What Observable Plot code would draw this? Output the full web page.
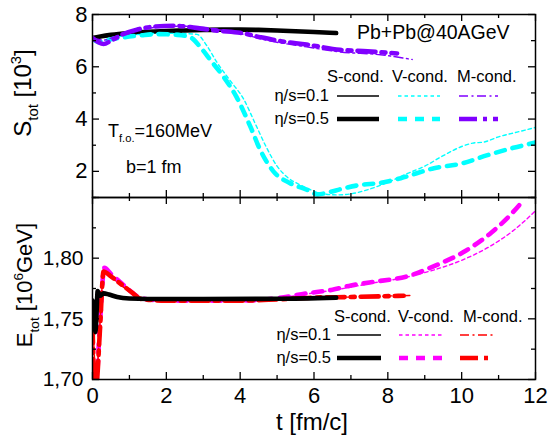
<!DOCTYPE html>
<html><head><meta charset="utf-8">
<script src="https://cdn.jsdelivr.net/npm/d3@7"></script>
<script src="https://cdn.jsdelivr.net/npm/@observablehq/plot@0.6"></script>
<style>
body{margin:0;background:#fff;}
#chart{position:relative;width:550px;height:435px;font-family:"Liberation Sans",Arial,sans-serif;}
#chart svg{position:absolute;left:0;overflow:visible;}
</style></head><body><div id="chart"></div>
<script>
// ---------- Top panel: S_tot [10^3] ----------
const tS_S05 = [0, 0.25, 0.5, 1, 1.5, 2, 2.5, 3, 3.5, 4, 4.5, 5, 5.5, 6, 6.6];
const vS_S05 = [7.1, 7.17, 7.22, 7.29, 7.34, 7.37, 7.39, 7.41, 7.42, 7.42, 7.41, 7.39, 7.36, 7.33, 7.29];
const tS_S01 = [0, 0.25, 0.5, 1, 1.5, 2, 2.5, 3, 3.5, 4, 4.5, 5, 5.5, 6, 6.6];
const vS_S01 = [7.08, 7.15, 7.2, 7.27, 7.32, 7.35, 7.37, 7.39, 7.4, 7.4, 7.39, 7.37, 7.34, 7.31, 7.28];

const tS_V05 = [0, 0.2, 0.5, 0.85, 1.3, 1.75, 2.3, 2.65, 2.95, 3.2, 3.56, 3.9, 4.28, 4.55, 4.9, 5.35, 5.8, 6.1, 6.4, 6.75, 7.25, 7.8, 8.35, 9.25, 10, 10.7, 11.4, 12];
const vS_V05 = [7.07, 6.93, 7.05, 7.13, 7.2, 7.25, 7.22, 7.13, 6.7, 6.25, 5.6, 4.85, 3.7, 2.8, 2.0, 1.55, 1.3, 1.12, 1.2, 1.33, 1.48, 1.56, 1.74, 2.12, 2.3, 2.62, 2.9, 3.1];
const tS_V01 = [0, 0.2, 0.5, 1, 1.5, 2, 2.5, 2.83, 3.1, 3.38, 3.74, 4.1, 4.4, 4.7, 5.0, 5.3, 5.6, 5.9, 6.2, 6.6, 7.0, 7.5, 8.0, 8.5, 9.0, 9.5, 10.0, 10.3, 10.6, 11.0, 11.5, 12];
const vS_V01 = [7.05, 6.98, 7.1, 7.2, 7.26, 7.28, 7.27, 7.24, 6.8, 6.15, 5.45, 4.75, 3.85, 2.95, 2.2, 1.75, 1.5, 1.3, 1.15, 1.1, 1.14, 1.32, 1.58, 1.9, 2.2, 2.6, 2.95, 3.08, 3.12, 3.32, 3.5, 3.68];

const tS_M05 = [0, 0.15, 0.3, 0.5, 0.85, 1.2, 1.57, 2.2, 2.65, 3.0, 3.4, 4.0, 4.55, 5.1, 5.8, 6.7, 7.45, 8.25];
const vS_M05 = [7.1, 6.95, 6.87, 7.0, 7.26, 7.42, 7.52, 7.57, 7.52, 7.45, 7.38, 7.3, 7.13, 6.98, 6.85, 6.65, 6.59, 6.51];
const tS_M01 = [0, 0.3, 0.6, 1.0, 1.5, 2.0, 2.5, 3.0, 3.5, 4.0, 4.7, 5.8, 6.7, 7.8, 8.66];
const vS_M01 = [7.1, 7.02, 7.15, 7.32, 7.47, 7.54, 7.55, 7.5, 7.4, 7.27, 7.02, 6.76, 6.57, 6.46, 6.28];

// ---------- Bottom panel: E_tot [10^6 GeV] ----------
const tE_S05 = [0, 0.04, 0.08, 0.11, 0.14, 0.2, 0.3, 0.45, 0.67, 1.0, 1.5, 3, 5, 6.6];
const vE_S05 = [1.765, 1.755, 1.739, 1.755, 1.773, 1.769, 1.771, 1.770, 1.768, 1.7667, 1.7663, 1.7663, 1.7665, 1.7675];
const tE_S01 = [0, 0.04, 0.08, 0.11, 0.14, 0.2, 0.3, 0.7, 1.0, 3, 5, 6.6];
const vE_S01 = [1.765, 1.756, 1.745, 1.758, 1.772, 1.769, 1.770, 1.767, 1.7665, 1.7663, 1.7665, 1.767];

const tE_V05 = [0, 0.1, 0.2, 0.32, 0.5, 0.8, 1.1, 1.3, 2, 3, 4, 5, 5.8, 6.5, 7.0, 7.5, 8.6, 9.3, 10.05, 10.8, 11.3, 11.68];
const vE_V05 = [1.70, 1.698, 1.745, 1.792, 1.787, 1.779, 1.771, 1.767, 1.765, 1.765, 1.765, 1.767, 1.771, 1.774, 1.7775, 1.78, 1.7857, 1.794, 1.805, 1.821, 1.835, 1.848];
const tE_V01 = [0, 0.1, 0.2, 0.33, 0.5, 0.8, 1.1, 1.3, 2, 3, 4, 5, 5.8, 6.5, 7.5, 8.6, 9.16, 10.06, 10.78, 11.41, 12];
const vE_V01 = [1.71, 1.70, 1.748, 1.790, 1.785, 1.778, 1.770, 1.767, 1.7655, 1.7655, 1.7655, 1.767, 1.7705, 1.7735, 1.779, 1.785, 1.7895, 1.799, 1.81, 1.823, 1.839];

const tE_M05 = [0, 0.05, 0.1, 0.2, 0.3, 0.5, 0.8, 1.1, 1.3, 2, 3, 4, 5, 6, 7, 8.43];
const vE_M05 = [1.745, 1.70, 1.695, 1.74, 1.789, 1.785, 1.778, 1.771, 1.7665, 1.765, 1.765, 1.765, 1.766, 1.7675, 1.768, 1.769];
const tE_M01 = [0, 0.05, 0.1, 0.2, 0.3, 0.5, 0.8, 1.1, 1.3, 2, 3, 4, 5, 6, 7, 8.66];
const vE_M01 = [1.76, 1.72, 1.70, 1.745, 1.788, 1.784, 1.777, 1.770, 1.7665, 1.7655, 1.7655, 1.7655, 1.766, 1.767, 1.768, 1.7693];

// ---------- ticks ----------
const xMajor = [0, 2, 4, 6, 8, 10, 12];
const xMinor = [1, 3, 5, 7, 9, 11];
const ySMajor = [2, 4, 6, 8];
const ySMinor = [1, 3, 5, 7];
const yEMajor = [1.70, 1.75, 1.80, 1.85];
const yEMinor = [1.725, 1.775, 1.825];
const yELabels = [1.70, 1.75, 1.80];

const rows = (t, v) => t.map((x, i) => ({t: x, v: v[i]}));

const FONT = "'Liberation Sans', Arial, sans-serif";
const W = 550, ML = 92, MR = 15;
const innerW = W - ML - MR;
const THIN = 1.4, THICK = 4.6;
const CYAN = "#00FFFF", PURPLE = "#8000FF", MAGENTA = "#FF00FF", RED = "#FF0000";
const DASH = {
  V01: "3.5,3", V05: "9,8", M01: "9,3.5,2,3.5", M05: "18,6,4,6"
};

function tickMarks(innerH, xMaj, xMin, yMaj, yMin) {
  const L = 7, l = 4, sw = 1.3;
  return [
    Plot.tickX(xMaj, {x: d => d, insetTop: innerH - L, strokeWidth: sw}),
    Plot.tickX(xMaj, {x: d => d, insetBottom: innerH - L, strokeWidth: sw}),
    Plot.tickX(xMin, {x: d => d, insetTop: innerH - l, strokeWidth: sw}),
    Plot.tickX(xMin, {x: d => d, insetBottom: innerH - l, strokeWidth: sw}),
    Plot.tickY(yMaj, {y: d => d, insetRight: innerW - L, strokeWidth: sw}),
    Plot.tickY(yMaj, {y: d => d, insetLeft: innerW - L, strokeWidth: sw}),
    Plot.tickY(yMin, {y: d => d, insetRight: innerW - l, strokeWidth: sw}),
    Plot.tickY(yMin, {y: d => d, insetLeft: innerW - l, strokeWidth: sw})
  ];
}

const line = (data, stroke, width, dash) =>
  Plot.line(data, {x: "t", y: "v", stroke, strokeWidth: width, strokeDasharray: dash, clip: true, curve: "monotone-x"});

// top panel
const topH = 197, topMT = 14, topMB = 0;
const topPlot = Plot.plot({
  width: W, height: topH, marginLeft: ML, marginRight: MR, marginTop: topMT, marginBottom: topMB,
  x: {domain: [0, 12], axis: null},
  y: {domain: [1, 8]},
  style: {fontFamily: FONT, fontSize: "21px", color: "black", background: "transparent", overflow: "visible"},
  marks: [
    line(rows(tS_S01, vS_S01), "black", THIN, null),
    line(rows(tS_S05, vS_S05), "black", THICK, null),
    line(rows(tS_V01, vS_V01), CYAN, THIN, DASH.V01),
    line(rows(tS_V05, vS_V05), CYAN, THICK, DASH.V05),
    line(rows(tS_M01, vS_M01), PURPLE, THIN, DASH.M01),
    line(rows(tS_M05, vS_M05), PURPLE, THICK, DASH.M05),
    ...tickMarks(topH - topMT - topMB, xMajor, xMinor, ySMajor, ySMinor),
    Plot.axisY({ticks: ySMajor, tickSize: 0, tickPadding: 5, tickFormat: d => String(d), label: null, fontSize: 22}),
    Plot.frame({strokeWidth: 1.5})
  ]
});

// bottom panel
const botH = 238, botMT = 0, botMB = 56;
const fmtComma = d => d.toFixed(2).replace(".", ",");
const botPlot = Plot.plot({
  width: W, height: botH, marginLeft: ML, marginRight: MR, marginTop: botMT, marginBottom: botMB,
  x: {domain: [0, 12]},
  y: {domain: [1.70, 1.85]},
  style: {fontFamily: FONT, fontSize: "21px", color: "black", background: "transparent", overflow: "visible"},
  marks: [
    line(rows(tE_V01, vE_V01), MAGENTA, THIN, DASH.V01),
    line(rows(tE_V05, vE_V05), MAGENTA, THICK, DASH.V05),
    line(rows(tE_M01, vE_M01), RED, THIN, DASH.M01),
    line(rows(tE_M05, vE_M05), RED, THICK, DASH.M05),
    line(rows(tE_S01, vE_S01), "black", THIN, null),
    line(rows(tE_S05, vE_S05), "black", THICK, null),
    ...tickMarks(botH - botMT - botMB, xMajor, xMinor, yEMajor, yEMinor),
    Plot.axisY({ticks: yELabels, tickSize: 0, tickPadding: 9, tickFormat: fmtComma, label: null, fontSize: 21}),
    Plot.axisX({ticks: xMajor, tickSize: 0, tickPadding: 8, tickFormat: d => String(d), label: null, fontSize: 22}),
    Plot.frame({strokeWidth: 1.5})
  ]
});

const chart = document.getElementById("chart");
topPlot.style.top = "0px";
botPlot.style.top = topH + "px";
chart.appendChild(topPlot);
chart.appendChild(botPlot);

// overlay: titles, annotations, legends
const ov = d3.select(chart).append("svg")
  .attr("width", W).attr("height", 435)
  .style("top", "0px").style("pointer-events", "none")
  .attr("font-family", FONT);

function richText(g, x, y, parts, size, opts = {}) {
  const t = g.append("text").attr("x", x).attr("y", y).attr("font-size", size).attr("fill", "black");
  if (opts.anchor) t.attr("text-anchor", opts.anchor);
  if (opts.transform) t.attr("transform", opts.transform).attr("x", 0).attr("y", 0);
  let shift = 0;
  for (const p of parts) {
    const s = t.append("tspan").text(p.s);
    const target = p.sub ? size * 0.3 : p.sup ? -size * 0.42 : 0;
    s.attr("dy", target - shift);
    shift = target;
    if (p.sub || p.sup) s.attr("font-size", size * 0.62);
  }
  return t;
}

// axis titles
richText(ov, 0, 0, [{s: "S"}, {s: "tot", sub: true}, {s: " [10"}, {s: "3", sup: true}, {s: "]"}], 24,
  {anchor: "middle", transform: "translate(31,93) rotate(-90)"});
richText(ov, 0, 0, [{s: "E"}, {s: "tot", sub: true}, {s: " [10"}, {s: "6", sup: true}, {s: "GeV]"}], 22,
  {anchor: "middle", transform: "translate(32,285) rotate(-90)"});
richText(ov, 276, 430, [{s: "t [fm/c]"}], 24);

// annotations
richText(ov, 357, 39, [{s: "Pb+Pb@40AGeV"}], 19.5);
richText(ov, 108, 137, [{s: "T"}, {s: "f.o.", sub: true}, {s: "=160MeV"}], 18);
richText(ov, 126, 173, [{s: "b=1 fm"}], 18);

// legends
function legend(hdrY, row1Y, row2Y, hx, labR, sx, vx, mx, cV, cM) {
  const fs = 16.5;
  richText(ov, hx[0], hdrY, [{s: "S-cond."}], fs);
  richText(ov, hx[1], hdrY, [{s: "V-cond."}], fs);
  richText(ov, hx[2], hdrY, [{s: "M-cond."}], fs);
  richText(ov, labR, row1Y + 5, [{s: "η/s=0.1"}], fs, {anchor: "end"});
  richText(ov, labR, row2Y + 5, [{s: "η/s=0.5"}], fs, {anchor: "end"});
  const seg = (x, y, c, w, dash) => ov.append("line").attr("x1", x[0]).attr("x2", x[1]).attr("y1", y).attr("y2", y)
    .attr("stroke", c).attr("stroke-width", w).attr("stroke-dasharray", dash);
  seg(sx, row1Y, "black", THIN, null);
  seg(sx, row2Y, "black", THICK, null);
  seg(vx, row1Y, cV, THIN, DASH.V01);
  seg(vx, row2Y, cV, THICK, DASH.V05);
  seg(mx, row1Y, cM, THIN, DASH.M01);
  seg(mx, row2Y, cM, THICK, DASH.M05);
}
legend(82, 96, 119, [327, 392, 457], 329, [337, 379], [398, 440], [459, 498], CYAN, PURPLE);
legend(322, 335, 358, [334, 398, 463], 331, [337, 381], [399, 442], [460, 494], MAGENTA, RED);
</script></body></html>
